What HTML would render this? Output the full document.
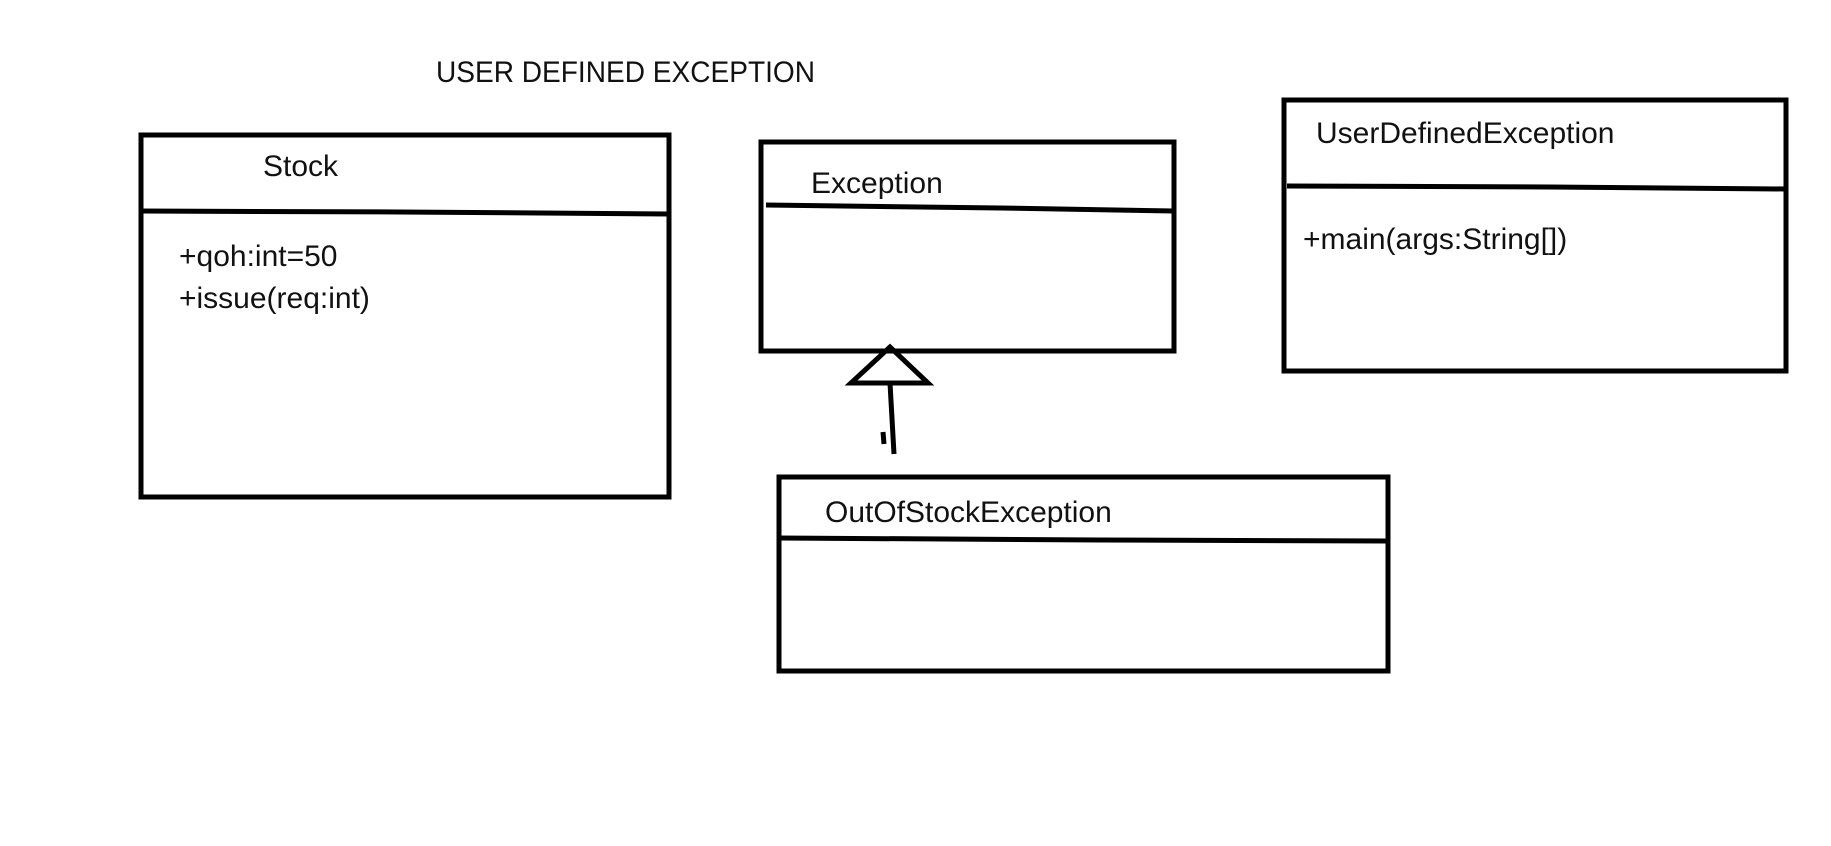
<!DOCTYPE html>
<html><head><style>body{margin:0;background:#fff}</style></head><body>
<svg width="1831" height="846" xmlns="http://www.w3.org/2000/svg" style="display:block">
<rect width="1831" height="846" fill="#fff"/>
<g font-family="Liberation Sans, sans-serif" font-size="30" fill="#111" dominant-baseline="middle">
<text x="436" y="74" textLength="379" lengthAdjust="spacingAndGlyphs">USER DEFINED EXCEPTION</text>
<text x="263" y="168">Stock</text>
<text x="179" y="258">+qoh:int=50</text>
<text x="179" y="300">+issue(req:int)</text>
<text x="811" y="185">Exception</text>
<text x="1316" y="135">UserDefinedException</text>
<text x="1303" y="241">+main(args:String[])</text>
<text x="825" y="514">OutOfStockException</text>
</g>
<g fill="none" stroke="#000" stroke-width="5">
<rect x="141" y="135" width="528" height="362"/>
<path d="M139 211 L400 212 L669 214"/>
<rect x="761" y="142" width="413" height="209"/>
<path d="M766 205 L1000 208 L1174 211"/>
<rect x="1284" y="100" width="502" height="271"/>
<path d="M1287 186 L1550 187 L1786 189"/>
<rect x="779" y="477" width="609" height="194"/>
<path d="M779 538 L1100 540 L1388 541"/>
<path d="M890 347 L851 383 L928 383 Z"/>
<path d="M890 383 L894 454"/>
<path d="M883 432 L884 444"/>
</g>
</svg>
</body></html>
